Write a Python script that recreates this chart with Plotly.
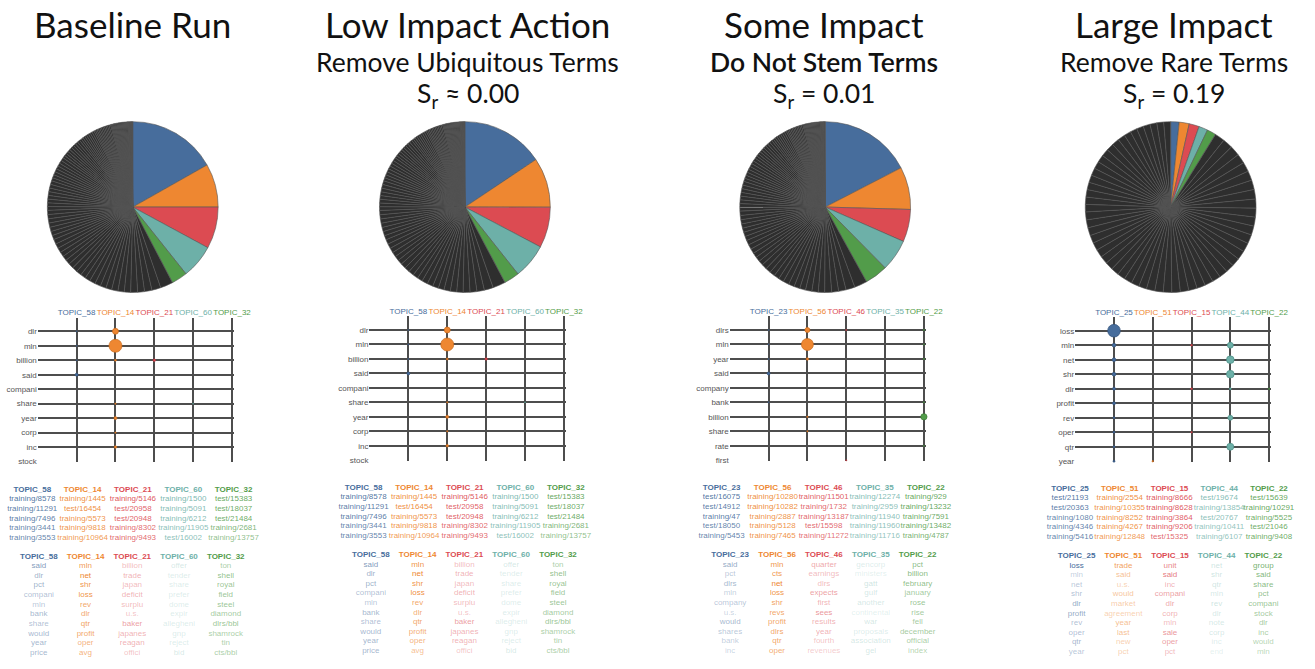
import numpy as np
import plotly.graph_objects as go

W, H = 1315, 669

# ---------------------------------------------------------------- data
PANEL_TITLES = ["Baseline Run", "Low Impact Action", "Some Impact", "Large Impact"]
PANEL_ACTIONS = ["", "Remove Ubiquitous Terms", "Do Not Stem Terms", "Remove Rare Terms"]
SCORE_RELATION = ["", "≈", "=", "="]
SCORE_VALUES = [None, 0.00, 0.01, 0.19]

TOPIC_COLORS = ["#476d9c", "#ee8731", "#dc4b52", "#6db0a8", "#529c4a"]
TOPIC_EDGES = ["#34527a", "#c96a1c", "#b3363d", "#4f8f87", "#3c7a36"]
REST_COLOR = "#2e2e2e"

# share (%) of the five matched topics in each run
PIE_MATCHED = [
    [16.8, 8.2, 7.9, 6.4, 3.0],
    [15.6, 9.4, 7.7, 6.6, 2.9],
    [17.3, 8.0, 6.1, 6.0, 4.3],
    [1.6, 1.9, 1.9, 1.7, 1.7],
]
# share (%) of the remaining topics
PIE_REST_SMALL = [
    2.4, 1.7, 1.4, 1.3, 1.3, 1.2, 1.2, 1.2, 1.1, 1.1,
    1.1, 1.1, 1.0, 1.0, 1.0, 1.0, 1.0, 0.9, 0.9, 0.9,
    0.9, 0.9, 0.9, 0.8, 0.8, 0.8, 0.8, 0.8, 0.8, 0.8,
    0.7, 0.7, 0.7, 0.7, 0.7, 0.7, 0.7, 0.7, 0.6, 0.6,
    0.6, 0.6, 0.6, 0.6, 0.6, 0.6, 0.5, 0.5, 0.5, 0.5,
    0.5, 0.5, 0.5, 0.5, 0.5, 0.4, 0.4, 0.4, 0.4, 0.4,
    0.4, 0.4, 0.4, 0.3, 0.3, 0.3, 0.3, 0.3, 0.3, 0.3,
    0.3, 0.3, 0.3, 0.3, 0.2, 0.2, 0.2, 0.2, 0.2, 0.2,
    0.2, 0.2, 0.2, 0.2, 0.2, 0.2, 0.2, 0.2, 0.2, 0.2,
    0.15, 0.15, 0.15, 0.15, 0.1, 0.1, 0.1, 0.1,
]
PIE_REST_LARGE = [
    1.9, 1.9, 1.9, 1.8, 1.8, 1.8, 1.8, 1.8, 1.7, 1.7,
    1.7, 1.7, 1.7, 1.7, 1.7, 1.6, 1.6, 1.6, 1.6, 1.6,
    1.6, 1.6, 1.6, 1.6, 1.6, 1.6, 1.6, 1.5, 1.5, 1.5,
    1.5, 1.5, 1.5, 1.5, 1.5, 1.5, 1.5, 1.5, 1.5, 1.5,
    1.4, 1.4, 1.4, 1.4, 1.4, 1.4, 1.4, 1.4, 1.4, 1.4,
    1.4, 1.4, 1.3, 1.3, 1.3, 1.3, 1.3, 1.3, 1.3,
]

MATRIX_TOPICS = [
    ["TOPIC_58", "TOPIC_14", "TOPIC_21", "TOPIC_60", "TOPIC_32"],
    ["TOPIC_58", "TOPIC_14", "TOPIC_21", "TOPIC_60", "TOPIC_32"],
    ["TOPIC_23", "TOPIC_56", "TOPIC_46", "TOPIC_35", "TOPIC_22"],
    ["TOPIC_25", "TOPIC_51", "TOPIC_15", "TOPIC_44", "TOPIC_22"],
]
MATRIX_TERMS = [
    ["dlr", "mln", "billion", "said", "compani", "share", "year", "corp", "inc", "stock"],
    ["dlr", "mln", "billion", "said", "compani", "share", "year", "corp", "inc", "stock"],
    ["dlrs", "mln", "year", "said", "company", "bank", "billion", "share", "rate", "first"],
    ["loss", "mln", "net", "shr", "dlr", "profit", "rev", "oper", "qtr", "year"],
]
# term weight per topic (rows = topics, columns = terms)
MATRIX_WEIGHTS = [
    [
        [0.0005, 0.0005, 0.0005, 0.0045, 0, 0, 0, 0, 0, 0],
        [0.018, 0.085, 0.002, 0, 0, 0.0009, 0.0045, 0.0009, 0.0031, 0],
        [0, 0, 0.0031, 0, 0, 0, 0, 0, 0, 0],
        [0, 0, 0, 0, 0, 0.0005, 0, 0, 0, 0],
        [0, 0, 0, 0, 0, 0, 0, 0, 0, 0],
    ],
    [
        [0.0005, 0.0005, 0.0005, 0.0045, 0, 0, 0, 0, 0, 0],
        [0.018, 0.085, 0.002, 0, 0, 0.0009, 0.0045, 0.0009, 0.0031, 0],
        [0, 0, 0.0031, 0, 0, 0, 0, 0, 0, 0],
        [0, 0, 0, 0, 0, 0.0005, 0, 0, 0, 0],
        [0, 0, 0, 0, 0, 0, 0, 0, 0, 0],
    ],
    [
        [0.0005, 0.0005, 0.0005, 0.0045, 0, 0.0005, 0, 0, 0, 0],
        [0.0126, 0.072, 0.0031, 0, 0, 0, 0.0011, 0.0007, 0, 0],
        [0.0007, 0, 0, 0, 0, 0, 0, 0, 0, 0.0007],
        [0, 0, 0, 0, 0, 0, 0, 0, 0, 0],
        [0.0007, 0.0007, 0.0007, 0, 0, 0.0007, 0.020, 0, 0.0007, 0],
    ],
    [
        [0.081, 0.0069, 0.0069, 0.0069, 0.0045, 0.0045, 0.002, 0.002, 0.002, 0.002],
        [0, 0, 0, 0, 0, 0, 0, 0, 0, 0.0011],
        [0, 0.0015, 0, 0, 0.0015, 0, 0, 0.0011, 0, 0],
        [0, 0.018, 0.030, 0.030, 0.002, 0, 0.0126, 0, 0.025, 0],
        [0, 0, 0, 0, 0.0011, 0, 0, 0, 0, 0],
    ],
]

TOP_DOCS = [
    [
        ["training/8578", "training/11291", "training/7496", "training/3441", "training/3553"],
        ["training/1445", "test/16454", "training/5573", "training/9818", "training/10964"],
        ["training/5146", "test/20958", "test/20948", "training/8302", "training/9493"],
        ["training/1500", "training/5091", "training/6212", "training/11905", "test/16002"],
        ["test/15383", "test/18037", "test/21484", "training/2681", "training/13757"],
    ],
    [
        ["training/8578", "training/11291", "training/7496", "training/3441", "training/3553"],
        ["training/1445", "test/16454", "training/5573", "training/9818", "training/10964"],
        ["training/5146", "test/20958", "test/20948", "training/8302", "training/9493"],
        ["training/1500", "training/5091", "training/6212", "training/11905", "test/16002"],
        ["test/15383", "test/18037", "test/21484", "training/2681", "training/13757"],
    ],
    [
        ["test/16075", "test/14912", "training/47", "test/18050", "training/5453"],
        ["training/10280", "training/10282", "training/2887", "training/5128", "training/7465"],
        ["training/11501", "training/1732", "training/13187", "test/15598", "training/11272"],
        ["training/12274", "training/2959", "training/11940", "training/11960", "training/11716"],
        ["training/929", "training/13232", "training/7591", "training/13482", "training/4787"],
    ],
    [
        ["test/21193", "test/20363", "training/1080", "training/4346", "training/5416"],
        ["training/2554", "training/10355", "training/8252", "training/4267", "training/12848"],
        ["training/8666", "training/8628", "training/3864", "training/9206", "test/15325"],
        ["test/19674", "training/13854", "test/20767", "training/10411", "training/6107"],
        ["test/15639", "training/10291", "training/5525", "test/21046", "training/9408"],
    ],
]
DOC_WEIGHTS = [
    [[.95, .9, .9, .85, .85], [.95, .95, .9, .9, .85], [.95, .9, .9, .85, .85], [.9, .85, .85, .8, .8], [.9, .85, .85, .75, .65]],
    [[.95, .9, .9, .85, .85], [.95, .95, .9, .9, .85], [.95, .9, .9, .85, .85], [.9, .85, .85, .8, .8], [.9, .85, .85, .75, .65]],
    [[.95, .9, .9, .85, .85], [.95, .95, .9, .9, .9], [.9, .85, .85, .85, .8], [.85, .8, .8, .8, .75], [.9, .9, .85, .85, .8]],
    [[.95, .9, .85, .85, .85], [.95, .9, .9, .9, .85], [.95, .95, .9, .9, .85], [.85, .8, .8, .75, .75], [.9, .9, .85, .85, .85]],
]

TOP_TERMS = [
    [
        ["said", "dlr", "pct", "compani", "mln", "bank", "share", "would", "year", "price"],
        ["mln", "net", "shr", "loss", "rev", "dlr", "qtr", "profit", "oper", "avg"],
        ["billion", "trade", "japan", "deficit", "surplu", "u.s.", "baker", "japanes", "reagan", "offici"],
        ["offer", "tender", "share", "prefer", "dome", "expir", "allegheni", "gnp", "reject", "bid"],
        ["ton", "shell", "royal", "field", "steel", "diamond", "dlrs/bbl", "shamrock", "tin", "cts/bbl"],
    ],
    [
        ["said", "dlr", "pct", "compani", "mln", "bank", "share", "would", "year", "price"],
        ["mln", "net", "shr", "loss", "rev", "dlr", "qtr", "profit", "oper", "avg"],
        ["billion", "trade", "japan", "deficit", "surplu", "u.s.", "baker", "japanes", "reagan", "offici"],
        ["offer", "tender", "share", "prefer", "dome", "expir", "allegheni", "gnp", "reject", "bid"],
        ["ton", "shell", "royal", "field", "steel", "diamond", "dlrs/bbl", "shamrock", "tin", "cts/bbl"],
    ],
    [
        ["said", "pct", "dlrs", "mln", "company", "u.s.", "would", "shares", "bank", "inc"],
        ["mln", "cts", "net", "loss", "shr", "revs", "profit", "dlrs", "qtr", "oper"],
        ["quarter", "earnings", "dlrs", "expects", "first", "sees", "results", "year", "fourth", "revenues"],
        ["gencorp", "ministers", "gatt", "gulf", "another", "continental", "war", "proposals", "association", "gel"],
        ["pct", "billion", "february", "january", "rose", "rise", "fell", "december", "official", "index"],
    ],
    [
        ["loss", "mln", "net", "shr", "dlr", "profit", "rev", "oper", "qtr", "year"],
        ["trade", "said", "u.s.", "would", "market", "agreement", "year", "last", "new", "pct"],
        ["unit", "said", "inc", "compani", "dlr", "corp", "mln", "sale", "oper", "pct"],
        ["net", "shr", "qtr", "mln", "rev", "dlr", "note", "corp", "inc", "end"],
        ["group", "said", "share", "pct", "compani", "stock", "dlr", "inc", "would", "mln"],
    ],
]
TERM_WEIGHTS = [
    [
        [.7, .55, .55, .45, .4, .5, .45, .5, .5, .5],
        [.85, 1.0, .9, .9, .75, .75, .8, .75, .65, .65],
        [.4, .45, .4, .45, .4, .35, .55, .45, .45, .35],
        [.3, .25, .25, .25, .25, .25, .25, .25, .25, .3],
        [.5, .65, .6, .6, .6, .55, .6, .5, .5, .5],
    ],
    [
        [.7, .55, .55, .45, .4, .5, .45, .5, .5, .5],
        [.9, 1.0, .9, .95, .75, .7, .75, .7, .65, .55],
        [.4, .45, .4, .45, .4, .35, .55, .45, .45, .35],
        [.3, .25, .25, .25, .25, .25, .25, .25, .25, .3],
        [.5, .65, .6, .6, .6, .55, .6, .5, .5, .5],
    ],
    [
        [.6, .4, .5, .35, .4, .3, .5, .4, .35, .3],
        [.9, .85, 1.0, .9, .8, .75, .75, .75, .75, .7],
        [.5, .4, .4, .55, .45, .6, .45, .45, .35, .3],
        [.25, .2, .35, .3, .3, .2, .3, .25, .3, .3],
        [.7, .7, .65, .55, .6, .55, .55, .55, .5, .45],
    ],
    [
        [1.0, .35, .4, .45, .6, .6, .45, .45, .5, .4],
        [.8, .55, .4, .5, .45, .4, .55, .55, .4, .4],
        [.7, .75, .45, .55, .5, .45, .4, .6, .55, .4],
        [.35, .35, .35, .3, .35, .3, .3, .3, .25, .2],
        [.8, .75, .7, .65, .6, .55, .55, .5, .45, .4],
    ],
]

# ---------------------------------------------------------------- layout geometry (pixels)
TEXT_FONT = "Liberation Sans, Arial, Helvetica, sans-serif"
TITLE_FONT = "Lato, 'Open Sans', sans-serif"
TITLE_CX = [134.0, 474.0, 834.5, 1189.5]
TITLE_Y, ACTION_Y, SCORE_Y = 24.0, 62.7, 95.5

PIE_CX = [134.5, 471.0, 836.0, 1186.0]
PIE_CY, PIE_R = 208.3, 86.5

# left, right, top of lines, first row, last row
MATRIX_BOX = [
    (38.3, 235.0, 320.0, 333.3, 464.3),
    (374.3, 571.3, 318.3, 332.0, 463.0),
    (739.3, 936.0, 318.3, 332.0, 463.0),
    (1089.3, 1285.7, 319.3, 332.7, 464.0),
]
# first column centre, column step, header row y
DOC_GRID = [(32.7, 51.0, 492.7), (368.3, 51.25, 490.7), (731.0, 51.75, 490.7), (1084.0, 50.4, 491.7)]
TERM_GRID = [(39.3, 47.35, 560.0), (375.7, 47.4, 558.3), (739.7, 47.5, 558.3), (1090.7, 47.3, 559.3)]
ROW_STEP = 9.67
BUBBLE_SCALE = 44.6


def dom_x(x0, x1):
    return [max(0.0, x0 / W), min(1.0, x1 / W)]


def dom_y(top, bottom):
    return [max(0.0, 1 - bottom / H), min(1.0, 1 - top / H)]


def rgba(hex_color, a):
    h = hex_color.lstrip("#")
    return "rgba(%d,%d,%d,%.2f)" % (int(h[0:2], 16), int(h[2:4], 16), int(h[4:6], 16), a)


fig = go.Figure()
axes_layout = {}
counter = [0]


def new_axes(xcfg, ycfg):
    counter[0] += 1
    n = counter[0]
    s = "" if n == 1 else str(n)
    xcfg = dict(xcfg, anchor="y" + s, fixedrange=True)
    ycfg = dict(ycfg, anchor="x" + s, fixedrange=True)
    axes_layout["xaxis" + s] = xcfg
    axes_layout["yaxis" + s] = ycfg
    return "x" + s, "y" + s


annotations = []

for p in range(4):
    # ---------------- titles
    annotations.append(dict(
        text=PANEL_TITLES[p], x=TITLE_CX[p] / W, y=1 - TITLE_Y / H, xref="paper", yref="paper",
        xanchor="center", yanchor="middle", showarrow=False,
        font=dict(family=TITLE_FONT, size=35, color="#111111")))
    if PANEL_ACTIONS[p]:
        annotations.append(dict(
            text=PANEL_ACTIONS[p], x=TITLE_CX[p] / W, y=1 - ACTION_Y / H, xref="paper", yref="paper",
            xanchor="center", yanchor="middle", showarrow=False,
            font=dict(family=TITLE_FONT, size=26.5, color="#111111", weight=600 if p == 2 else 400)))
        annotations.append(dict(
            text="S<sub>r</sub> %s %.2f" % (SCORE_RELATION[p], SCORE_VALUES[p]),
            x=TITLE_CX[p] / W, y=1 - SCORE_Y / H, xref="paper", yref="paper",
            xanchor="center", yanchor="middle", showarrow=False,
            font=dict(family=TITLE_FONT, size=26.5, color="#111111")))

    # ---------------- pie
    rest = PIE_REST_LARGE if p == 3 else PIE_REST_SMALL
    vals = PIE_MATCHED[p] + rest
    cols = TOPIC_COLORS + [REST_COLOR] * len(rest)
    cx = PIE_CX[p]
    fig.add_trace(go.Pie(
        values=vals, sort=False, direction="clockwise", rotation=0,
        marker=dict(colors=cols, line=dict(color="#555555", width=0.6)),
        textinfo="none", hoverinfo="skip", showlegend=False,
        domain=dict(x=dom_x(cx - PIE_R, cx + PIE_R), y=dom_y(PIE_CY - PIE_R, PIE_CY + PIE_R))))

    # ---------------- matrix
    left, right, top, first, last = MATRIX_BOX[p]
    sx = (right - left) / 5.0
    sy = (last - first) / 9.0
    pad = 0.05
    topics = MATRIX_TOPICS[p]
    terms = MATRIX_TERMS[p]
    xa = dict(domain=dom_x(left, right + pad * sx), range=[-1, 4 + pad], side="top",
              tickmode="array", tickvals=list(range(5)), tickangle=0,
              ticktext=['<span style="color:%s">%s</span>' % (TOPIC_COLORS[j], t) for j, t in enumerate(topics)],
              showgrid=True, gridcolor="#4d4d4d", gridwidth=1.6, zeroline=False, showline=False,
              ticks="", tickfont=dict(family=TEXT_FONT, size=8, color="#555555"))
    ya = dict(domain=dom_y(top, last + pad * sy), range=[9 + pad, -(first - top) / sy],
              tickmode="array", tickvals=list(range(10)), ticktext=terms,
              showgrid=True, gridcolor="#4d4d4d", gridwidth=1.6, zeroline=False, showline=False,
              ticks="", tickfont=dict(family=TEXT_FONT, size=8, color="#555555"))
    xr, yr = new_axes(xa, ya)
    W_ = MATRIX_WEIGHTS[p]
    for j in range(5):
        w = np.array(W_[j], dtype=float)
        idx = np.nonzero(w > 0)[0]
        if len(idx) == 0:
            continue
        fig.add_trace(go.Scatter(
            x=[j] * len(idx), y=idx.tolist(), mode="markers", xaxis=xr, yaxis=yr,
            marker=dict(size=(BUBBLE_SCALE * np.sqrt(w[idx])).tolist(), color=TOPIC_COLORS[j],
                        line=dict(color=TOPIC_EDGES[j], width=0.7), opacity=1),
            hoverinfo="skip", showlegend=False, cliponaxis=False))

    # ---------------- top documents
    c0, cs, hy = DOC_GRID[p]
    xa = dict(domain=dom_x(c0 - 0.5 * cs, c0 + 4.5 * cs), range=[-0.5, 4.5], visible=False)
    ya = dict(domain=dom_y(hy - 0.5 * ROW_STEP, hy + 5.5 * ROW_STEP), range=[5.5, -0.5], visible=False)
    xr, yr = new_axes(xa, ya)
    for j in range(5):
        docs = TOP_DOCS[p][j]
        txt = ["<b>%s</b>" % topics[j]] + docs
        colors = [TOPIC_COLORS[j]] + [rgba(TOPIC_COLORS[j], a) for a in DOC_WEIGHTS[p][j]]
        fig.add_trace(go.Scatter(
            x=[j] * len(txt), y=list(range(len(txt))), mode="text", text=txt,
            textposition="middle center", xaxis=xr, yaxis=yr,
            textfont=dict(family=TEXT_FONT, size=8, color=colors),
            hoverinfo="skip", showlegend=False, cliponaxis=False))

    # ---------------- top terms
    c0, cs, hy = TERM_GRID[p]
    xa = dict(domain=dom_x(c0 - 0.5 * cs, c0 + 4.5 * cs), range=[-0.5, 4.5], visible=False)
    ya = dict(domain=dom_y(hy - 0.5 * ROW_STEP, hy + 10.5 * ROW_STEP), range=[10.5, -0.5], visible=False)
    xr, yr = new_axes(xa, ya)
    for j in range(5):
        tt = TOP_TERMS[p][j]
        txt = ["<b>%s</b>" % topics[j]] + tt
        colors = [TOPIC_COLORS[j]] + [rgba(TOPIC_COLORS[j], a) for a in TERM_WEIGHTS[p][j]]
        fig.add_trace(go.Scatter(
            x=[j] * len(txt), y=list(range(len(txt))), mode="text", text=txt,
            textposition="middle center", xaxis=xr, yaxis=yr,
            textfont=dict(family=TEXT_FONT, size=8, color=colors),
            hoverinfo="skip", showlegend=False, cliponaxis=False))

fig.update_layout(
    width=W, height=H, margin=dict(l=0, r=0, t=0, b=0),
    paper_bgcolor="white", plot_bgcolor="white",
    showlegend=False, annotations=annotations,
    font=dict(family=TEXT_FONT),
    **axes_layout,
)

fig.write_html(
    "out.html",
    config={"displayModeBar": False},
    post_script="document.body.style.margin='0px';document.body.style.overflow='hidden';",
)
